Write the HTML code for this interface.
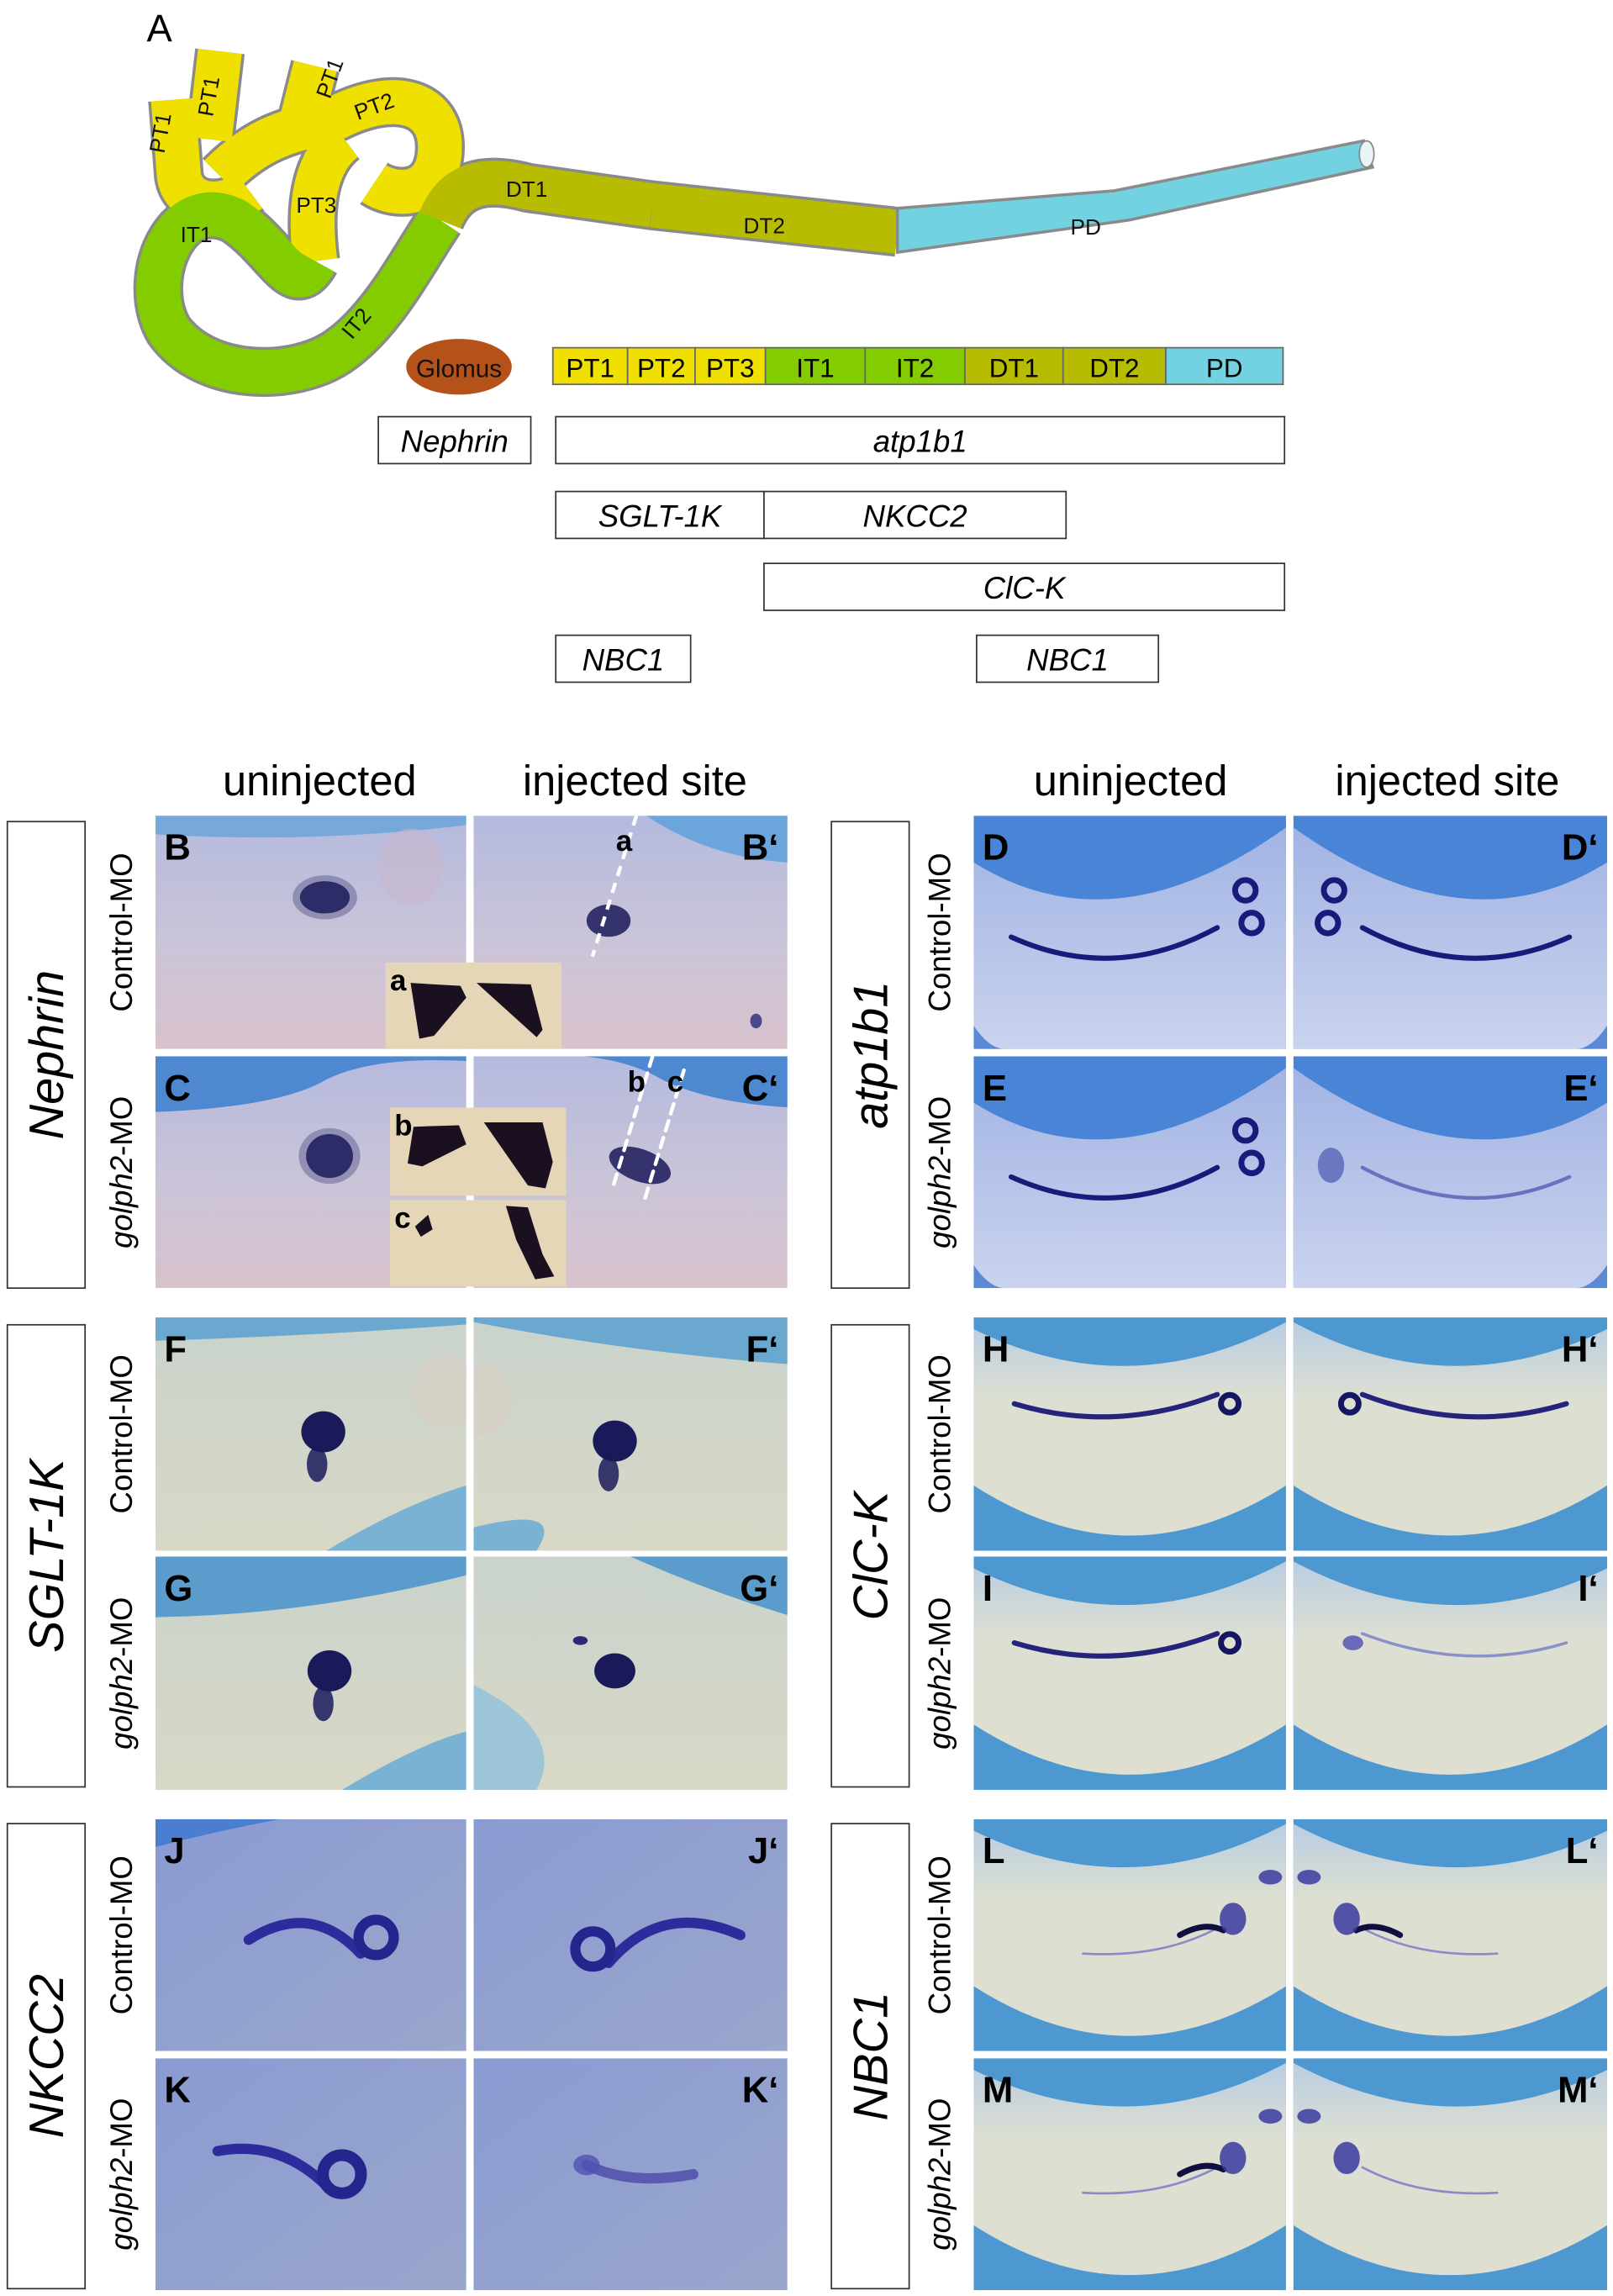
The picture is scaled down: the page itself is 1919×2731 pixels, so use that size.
<!DOCTYPE html>
<html><head><meta charset="utf-8">
<style>
html,body{margin:0;padding:0;background:#fff;}
svg{display:block;}
text{font-family:"Liberation Sans",Arial,sans-serif;}
</style></head>
<body>
<svg id="fig" xmlns="http://www.w3.org/2000/svg" width="1919" height="2731" viewBox="0 0 1100 1565" preserveAspectRatio="none">
<defs>
<linearGradient id="gNeph" x1="0" y1="0" x2="0" y2="1"><stop offset="0" stop-color="#b4bade"/><stop offset="0.55" stop-color="#cbc4d8"/><stop offset="1" stop-color="#d8c2cc"/></linearGradient>
<linearGradient id="gSglt" x1="0" y1="0" x2="0" y2="1"><stop offset="0" stop-color="#c9d3cc"/><stop offset="1" stop-color="#d8d8c6"/></linearGradient>
<linearGradient id="gNkcc" x1="0" y1="0" x2="1" y2="1"><stop offset="0" stop-color="#8a9bd2"/><stop offset="1" stop-color="#9aa6cc"/></linearGradient>
<linearGradient id="gAtpBody" x1="0" y1="0" x2="0" y2="1"><stop offset="0" stop-color="#a2b4e4"/><stop offset="1" stop-color="#cad3ee"/></linearGradient>
<linearGradient id="gCreamBody" x1="0" y1="0" x2="0" y2="1"><stop offset="0" stop-color="#b9cde2"/><stop offset="0.35" stop-color="#dcdfd2"/><stop offset="1" stop-color="#dedfd0"/></linearGradient>
</defs>

<g>
<text x="100" y="28" font-size="26">A</text>
<g fill="none" stroke-linecap="butt" stroke-linejoin="round">
 <g stroke="#8a8a8a" stroke-width="34">
  <path d="M118,68 L122,120 C125,140 150,145 170,130"/>
  <path d="M150,35 L143,95"/>
  <path d="M215,45 L205,85"/>
  <path d="M150,120 C180,90 200,90 230,80 C270,60 300,70 300,100 C300,135 270,135 255,125"/>
  <path d="M235,95 C215,110 210,140 215,178"/>
  <path d="M215,178 C200,205 190,170 160,150 C120,130 95,190 115,225 C140,260 200,260 230,240 C260,220 280,180 300,150"/>
  <path d="M300,150 C310,125 330,120 360,128 L445,140 L612,158"/>
 </g>
 <g stroke="#f0e000" stroke-width="30">
  <path d="M118,68 L122,120 C125,140 150,145 170,130"/>
  <path d="M150,35 L143,95"/>
  <path d="M215,45 L205,85"/>
  <path d="M150,120 C180,90 200,90 230,80 C270,60 300,70 300,100 C300,135 270,135 255,125"/>
  <path d="M235,95 C215,110 210,140 215,178"/>
 </g>
 <path d="M215,178 C200,205 190,170 160,150 C120,130 95,190 115,225 C140,260 200,260 230,240 C260,220 280,180 300,150" stroke="#82cc00" stroke-width="30"/>
 <path d="M300,150 C310,125 330,120 360,128 L445,140" stroke="#b8bc00" stroke-width="30"/>
 <path d="M445,140 L612,158" stroke="#b8bc00" stroke-width="30"/>
</g>
<polygon points="612,142 760,130 930,96 936,114 770,150 612,172" fill="#72d2e2" stroke="#8a8a8a" stroke-width="2"/>
<ellipse cx="932" cy="105" rx="5" ry="9" fill="#e8f4f6" stroke="#888"/>
<g font-size="15" fill="#111">
 <text x="112" y="105" transform="rotate(-80 112 105)">PT1</text>
 <text x="145" y="80" transform="rotate(-80 145 80)">PT1</text>
 <text x="225" y="68" transform="rotate(-70 225 68)">PT1</text>
 <text x="244" y="82" transform="rotate(-20 244 82)">PT2</text>
 <text x="202" y="145">PT3</text>
 <text x="123" y="165">IT1</text>
 <text x="240" y="232" transform="rotate(-50 240 232)">IT2</text>
 <text x="345" y="134">DT1</text>
 <text x="507" y="159">DT2</text>
 <text x="730" y="160">PD</text>
</g>
<ellipse cx="313" cy="250" rx="36" ry="19" fill="#b5521a"/>
<text x="313" y="257" font-size="17" text-anchor="middle" fill="#111">Glomus</text>
<g id="segbar"></g>
<g id="genebars"></g>

<g id="panels"></g>
</svg>
<script>
const NS='http://www.w3.org/2000/svg';
function mk(tag,parent){const e=document.createElementNS(NS,tag);parent.appendChild(e);return e;}
const segNames=['PT1','PT2','PT3','IT1','IT2','DT1','DT2','PD'];
const segStarts=[377,428,474,522,590,658,725,795,875];
const segColors=['#f0e000','#f0e000','#f0e000','#82cc00','#82cc00','#b8bc00','#b8bc00','#72d2e2'];
const segG=document.getElementById('segbar');
segNames.forEach((n,i)=>{
 const r=mk('rect',segG);
 r.setAttribute('x',segStarts[i]);r.setAttribute('y',237);r.setAttribute('width',segStarts[i+1]-segStarts[i]);r.setAttribute('height',25);
 r.setAttribute('fill',segColors[i]);r.setAttribute('stroke','#666');r.setAttribute('stroke-width','1');
 
 
 const t=mk('text',segG);
 t.setAttribute('x',(segStarts[i]+segStarts[i+1])/2);t.setAttribute('y',257);t.setAttribute('font-size','18');t.setAttribute('text-anchor','middle');
 t.textContent=n;
 
 
});
const geneNames=['Nephrin','atp1b1','SGLT-1K','NKCC2','ClC-K','NBC1','NBC1'];
const geneX0=[258,379,379,521,521,379,666];
const geneX1=[362,876,521,727,876,471,790];
const geneY=[284,284,335,335,384,433,433];
const gb=document.getElementById('genebars');
geneNames.forEach((n,i)=>{
 const r=mk('rect',gb);
 r.setAttribute('x',geneX0[i]);r.setAttribute('y',geneY[i]);r.setAttribute('width',geneX1[i]-geneX0[i]);r.setAttribute('height',32);
 r.setAttribute('fill','#fff');r.setAttribute('stroke','#333');r.setAttribute('stroke-width','1');
 
 
 const t=mk('text',gb);
 t.setAttribute('x',(geneX0[i]+geneX1[i])/2);t.setAttribute('y',geneY[i]+24);t.setAttribute('font-size','21');t.setAttribute('font-style','italic');t.setAttribute('text-anchor','middle');
 t.textContent=n;
 
 
});

const P=document.getElementById('panels');
function sc(str,w,h){return str.replace(/(-?[\d.]+),(-?[\d.]+)/g,(m,a,b)=>(+a*w).toFixed(1)+','+(+b*h).toFixed(1));}
let cid=0;
function panel(x,y,w,h,mirror,label,name,draw){
 const g=mk('g',P);
 
 
 const cp=mk('clipPath',g);cp.setAttribute('id','c'+(++cid));
 const cr=mk('rect',cp);cr.setAttribute('x',x);cr.setAttribute('y',y);cr.setAttribute('width',w);cr.setAttribute('height',h);
 const inner=mk('g',g);inner.setAttribute('clip-path','url(#c'+cid+')');
 const t=mk('g',inner);
 t.setAttribute('transform',mirror?`translate(${x+w},${y}) scale(-1,1)`:`translate(${x},${y})`);
 const api={
  path(d,fill,stroke,sw,op){const p=mk('path',t);p.setAttribute('d',sc(d,w,h));p.setAttribute('fill',fill||'none');if(stroke){p.setAttribute('stroke',stroke);p.setAttribute('stroke-width',sw||1);p.setAttribute('stroke-linecap','round');}if(op)p.setAttribute('opacity',op);return p;},
  rect(fill){const r=mk('rect',t);r.setAttribute('width',w);r.setAttribute('height',h);r.setAttribute('fill',fill);return r;},
  ell(fx,fy,rx,ry,fill,op,rot){const e=mk('ellipse',t);e.setAttribute('cx',fx*w);e.setAttribute('cy',fy*h);e.setAttribute('rx',rx);e.setAttribute('ry',ry);e.setAttribute('fill',fill);if(op)e.setAttribute('opacity',op);if(rot)e.setAttribute('transform',`rotate(${rot} ${fx*w} ${fy*h})`);return e;},
  circ(fx,fy,r,stroke,sw){const c=mk('circle',t);c.setAttribute('cx',fx*w);c.setAttribute('cy',fy*h);c.setAttribute('r',r);c.setAttribute('fill','none');c.setAttribute('stroke',stroke);c.setAttribute('stroke-width',sw);return c;}
 };
 draw(api);
 const tl=mk('text',g);
 tl.setAttribute('font-size','25');tl.setAttribute('font-weight','bold');tl.setAttribute('y',y+30);
 if(label.indexOf('‘')>=0){tl.setAttribute('x',x+w-6);tl.setAttribute('text-anchor','end');}else{tl.setAttribute('x',x+6);}
 tl.textContent=label;
 
 
 return g;
}
const DK='#1a1a5a';
const LX=[106,323], LW=[212,214];
const RX=[664,882], RW=[213,214];
const ROW1=[[556,159],[720,158]], ROW2=[[898,159],[1061,159]], ROW3=[[1240,158],[1403,158]];

panel(LX[0],ROW1[0][0],LW[0],ROW1[0][1],false,'B','panel-b',a=>{a.rect('url(#gNeph)');a.path('M0,0 L1,0 L1,0.04 Q0.5,0.12 0,0.08 Z','#76a8da');a.ell(0.82,0.22,22,26,'#c8b8cc',0.6);a.ell(0.545,0.35,17,11,DK,0.9);a.ell(0.545,0.35,22,15,'#30306a',0.35);});
panel(LX[1],ROW1[0][0],LW[1],ROW1[0][1],false,'B‘','panel-b-prime',a=>{a.rect('url(#gNeph)');a.path('M0.55,0 L1,0 L1,0.2 Q0.75,0.18 0.55,0 Z','#6ca4dc');a.ell(0.43,0.45,15,11,DK,0.85);a.ell(0.9,0.88,4,5,'#4a4a8a');});
panel(LX[0],ROW1[1][0],LW[0],ROW1[1][1],false,'C','panel-c',a=>{a.rect('url(#gNeph)');a.path('M0,0 L1,0 L1,0.02 Q0.7,0.0 0.55,0.1 Q0.4,0.22 0,0.24 Z','#4e88d0');a.ell(0.56,0.43,16,15,DK,0.9);a.ell(0.56,0.43,21,19,'#30306a',0.35);});
panel(LX[1],ROW1[1][0],LW[1],ROW1[1][1],false,'C‘','panel-c-prime',a=>{a.rect('url(#gNeph)');a.path('M0.35,0 L1,0 L1,0.22 Q0.75,0.2 0.6,0.1 Q0.5,0.02 0.35,0 Z','#4e88d0');a.ell(0.53,0.47,22,11,DK,0.85,20);a.path('M0.57,0 L0.44,0.58','none','#fff',2.5).setAttribute('stroke-dasharray','7 5');a.path('M0.67,0.06 L0.54,0.64','none','#fff',2.5).setAttribute('stroke-dasharray','7 5');});
(function(){const l=mk('path',P);l.setAttribute('d','M434,556 L404,652');l.setAttribute('stroke','#fff');l.setAttribute('stroke-width','2.5');l.setAttribute('stroke-dasharray','7 5');

})();
[['a',420,580],['b',428,744],['c',455,744]].forEach(d=>{const t=mk('text',P);t.setAttribute('x',d[1]);t.setAttribute('y',d[2]);t.setAttribute('font-size','20');t.setAttribute('font-weight','bold');t.textContent=d[0];

});
function inset(x,y,w,h,lbl,blobs){const g=mk('g',P);
 
 
 const r=mk('rect',g);r.setAttribute('x',x);r.setAttribute('y',y);r.setAttribute('width',w);r.setAttribute('height',h);r.setAttribute('fill','#e6d6b8');
 blobs.forEach(b=>{const p=mk('path',g);p.setAttribute('d',b);p.setAttribute('fill','#1a1020');});
 const t=mk('text',g);t.setAttribute('x',x+3);t.setAttribute('y',y+19);t.setAttribute('font-size','20');t.setAttribute('font-weight','bold');t.textContent=lbl;}
inset(263,656,120,59,'a',['M280,670 L314,672 L318,680 L296,706 L286,708 Z','M325,670 L362,671 L370,702 L366,707 Z']);
inset(266,755,120,60,'b',['M282,768 L313,767 L318,780 L288,795 L278,793 Z','M330,765 L370,765 L377,792 L372,810 L360,808 Z']);
inset(266,818,120,59,'c',['M283,836 L292,828 L295,838 L287,843 Z','M345,822 L360,823 L370,855 L378,870 L365,872 L352,845 Z']);

function sgltBlob(a,fx,fy,s){a.ell(fx,fy,15*s,14*s,DK);a.ell(fx-0.02,fy+0.14,7*s,12*s,DK,0.85);}
panel(LX[0],ROW2[0][0],LW[0],ROW2[0][1],false,'F','panel-f',a=>{a.rect('url(#gSglt)');a.path('M0,0 L1,0 L1,0.03 Q0.5,0.08 0,0.1 Z','#6aa8d0');a.path('M0.55,1 Q0.8,0.8 1,0.72 L1,1 Z','#7ab2d4');a.ell(0.93,0.32,22,25,'#d8cfc4',0.7);sgltBlob(a,0.54,0.49,1);});
panel(LX[1],ROW2[0][0],LW[1],ROW2[0][1],false,'F‘','panel-f-prime',a=>{a.rect('url(#gSglt)');a.path('M0,0 L1,0 L1,0.2 Q0.5,0.15 0,0.02 Z','#6aa8d0');a.path('M0,0.9 Q0.3,0.8 0.2,1 L0,1 Z','#7ab2d4');a.ell(0.02,0.35,22,25,'#d8cfc4',0.7);sgltBlob(a,0.45,0.53,1);});
panel(LX[0],ROW2[1][0],LW[0],ROW2[1][1],false,'G','panel-g',a=>{a.rect('url(#gSglt)');a.path('M0,0 L1,0 L1,0.08 Q0.5,0.25 0,0.26 Z','#5c9ccc');a.path('M0.6,1 Q0.85,0.8 1,0.75 L1,1 Z','#7ab2d4');sgltBlob(a,0.56,0.49,1);});
panel(LX[1],ROW2[1][0],LW[1],ROW2[1][1],false,'G‘','panel-g-prime',a=>{a.rect('url(#gSglt)');a.path('M0.5,0 L1,0 L1,0.25 Q0.75,0.15 0.5,0 Z','#5c9ccc');a.path('M0,0.55 Q0.3,0.75 0.2,1 L0,1 Z','#9ec4d8');a.ell(0.45,0.49,14,12,DK);a.ell(0.34,0.36,5,3,'#2a2a70');});

panel(LX[0],ROW3[0][0],LW[0],ROW3[0][1],false,'J','panel-j',a=>{a.rect('url(#gNkcc)');a.path('M0,0 L0.4,0 Q0.2,0.05 0,0.12 Z','#4a7ed0');a.path('M0.3,0.52 Q0.5,0.35 0.66,0.58','none','#2c2c9c',7);a.circ(0.71,0.51,12,'#25258e',7);});
panel(LX[1],ROW3[0][0],LW[1],ROW3[0][1],false,'J‘','panel-j-prime',a=>{a.rect('url(#gNkcc)');a.path('M0.43,0.62 Q0.6,0.35 0.85,0.5','none','#2c2c9c',7);a.circ(0.38,0.56,12,'#25258e',7);});
panel(LX[0],ROW3[1][0],LW[0],ROW3[1][1],false,'K','panel-k',a=>{a.rect('url(#gNkcc)');a.path('M0.2,0.4 Q0.4,0.35 0.55,0.55','none','#2c2c9c',7);a.circ(0.6,0.5,13,'#25258e',8);});
panel(LX[1],ROW3[1][0],LW[1],ROW3[1][1],false,'K‘','panel-k-prime',a=>{a.rect('url(#gNkcc)');a.path('M0.36,0.46 Q0.5,0.55 0.7,0.5','none','#5a5ab0',7);a.ell(0.36,0.46,9,7,'#5050b0',0.8);});

function atp(a,stain,faint){a.rect('#4a84d6');a.path('M0,0.2 Q0.45,0.58 1,0.05 L1,1 L0,1 Z','url(#gAtpBody)');a.path('M0,0.9 Q0.05,1.0 0.1,1 L0,1 Z','#5a8ad6');
 const c=faint?'#6a72c0':'#1a1a7a';a.path('M0.12,0.52 Q0.45,0.72 0.78,0.48','none',c,faint?2.5:3.5);
 if(faint){a.ell(0.88,0.47,9,12,'#5a64b8',0.8);}else{a.circ(0.89,0.46,7,'#1a1a7a',4);a.circ(0.87,0.32,7,'#1a1a7a',4);}}
panel(RX[0],ROW1[0][0],RW[0],ROW1[0][1],false,'D','panel-d',a=>atp(a));
panel(RX[1],ROW1[0][0],RW[1],ROW1[0][1],true,'D‘','panel-d-prime',a=>atp(a));
panel(RX[0],ROW1[1][0],RW[0],ROW1[1][1],false,'E','panel-e',a=>atp(a));
panel(RX[1],ROW1[1][0],RW[1],ROW1[1][1],true,'E‘','panel-e-prime',a=>atp(a,0,1));

function embryo(a){a.rect('#4d98d0');a.path('M0,0.05 Q0.5,0.38 1,0.02 L1,0.72 Q0.5,1.15 0,0.72 Z','url(#gCreamBody)');}
function clck(a,faint){embryo(a);const c=faint?'#8a90c8':'#24247a';a.path('M0.13,0.37 Q0.45,0.5 0.78,0.33','none',c,faint?2:3.5);if(faint){a.ell(0.81,0.37,7,5,'#6a6ab8');}else{a.circ(0.82,0.37,6,'#151560',4);}}
panel(RX[0],ROW2[0][0],RW[0],ROW2[0][1],false,'H','panel-h',a=>clck(a));
panel(RX[1],ROW2[0][0],RW[1],ROW2[0][1],true,'H‘','panel-h-prime',a=>clck(a));
panel(RX[0],ROW2[1][0],RW[0],ROW2[1][1],false,'I','panel-i',a=>clck(a));
panel(RX[1],ROW2[1][0],RW[1],ROW2[1][1],true,'I‘','panel-i-prime',a=>clck(a,1));

function nbc(a,faint){embryo(a);a.path('M0.35,0.58 Q0.6,0.6 0.78,0.47','none','#8a8ac8',1.5);if(!faint){a.path('M0.66,0.5 Q0.74,0.44 0.8,0.48','none','#101040',4);}
 a.ell(0.83,0.43,9,11,'#3a3aa0',0.85);a.ell(0.95,0.25,8,5,'#3a3aa0',0.85);}
panel(RX[0],ROW3[0][0],RW[0],ROW3[0][1],false,'L','panel-l',a=>nbc(a));
panel(RX[1],ROW3[0][0],RW[1],ROW3[0][1],true,'L‘','panel-l-prime',a=>nbc(a));
panel(RX[0],ROW3[1][0],RW[0],ROW3[1][1],false,'M','panel-m',a=>nbc(a));
panel(RX[1],ROW3[1][0],RW[1],ROW3[1][1],true,'M‘','panel-m-prime',a=>nbc(a,1));

[['uninjected',218],['injected site',433],['uninjected',771],['injected site',987]].forEach((d,i)=>{const t=mk('text',P);t.setAttribute('x',d[1]);t.setAttribute('y',542);t.setAttribute('font-size','29');t.setAttribute('text-anchor','middle');t.textContent=d[0];

});
const boxes=[[5,560,878,'Nephrin'],[5,903,1218,'SGLT-1K'],[5,1243,1560,'NKCC2'],[567,560,878,'atp1b1'],[567,903,1218,'ClC-K'],[567,1243,1560,'NBC1']];
boxes.forEach(b=>{const r=mk('rect',P);r.setAttribute('x',b[0]);r.setAttribute('y',b[1]);r.setAttribute('width',53);r.setAttribute('height',b[2]-b[1]);r.setAttribute('fill','#fff');r.setAttribute('stroke','#333');
 
 
 const t=mk('text',P);const cx=b[0]+38,cy=(b[1]+b[2])/2;t.setAttribute('x',cx);t.setAttribute('y',cy);t.setAttribute('font-size','33');t.setAttribute('font-style','italic');t.setAttribute('text-anchor','middle');t.setAttribute('transform',`rotate(-90 ${cx} ${cy})`);t.textContent=b[3];
 
 });
const moRows=[[556,159],[720,158],[898,159],[1061,159],[1240,158],[1403,158]];
moRows.forEach((r,i)=>{[90,648].forEach(x=>{const t=mk('text',P);const cy=r[0]+r[1]/2;t.setAttribute('x',x);t.setAttribute('y',cy);t.setAttribute('font-size','21');t.setAttribute('text-anchor','middle');t.setAttribute('transform',`rotate(-90 ${x} ${cy})`);
 if(i%2===0){t.textContent='Control-MO';}else{const ts=mk('tspan',t);ts.setAttribute('font-style','italic');ts.textContent='golph2';const ts2=mk('tspan',t);ts2.textContent='-MO';}
 
 });});
</script>
</body></html>
